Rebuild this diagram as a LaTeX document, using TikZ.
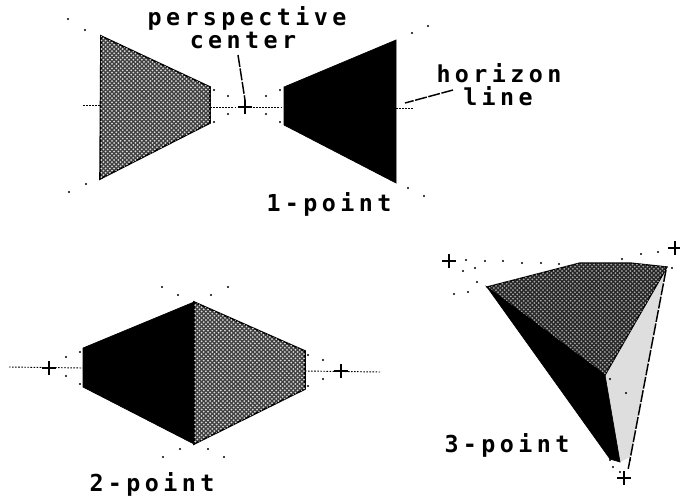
\documentclass[tikz,border=0pt]{standalone}
\usepackage{fontspec}
\usetikzlibrary{patterns}
\newfontfamily\pixfont[LetterSpace=19]{DejaVu Sans Mono Bold}
\pgfdeclarepatternformonly{dither}{\pgfqpoint{-0.1pt}{-0.1pt}}{\pgfqpoint{3.3pt}{3.3pt}}{\pgfqpoint{3.2pt}{3.2pt}}{
  \pgfpathcircle{\pgfqpoint{0.8pt}{0.8pt}}{0.75pt}
  \pgfpathcircle{\pgfqpoint{2.4pt}{2.4pt}}{0.75pt}
  \pgfusepath{fill}
}
\tikzset{
 x=0.75pt,y=-0.75pt,
 lab/.style={font=\pixfont\fontsize{17.5pt}{19pt}\selectfont,inner sep=0pt,align=center,text=black},
 midshade/.style={draw=black,line width=1.2pt,fill=black!75,postaction={pattern=dither,pattern color=white!85!black}},
 darkshade/.style={draw=black,line width=1pt,fill=black!85,postaction={pattern=dither,pattern color=white!65!black}},
 blackface/.style={draw=black,line width=0.5pt,fill=black},
 lightface/.style={draw=none,fill=black!13},
 dotline/.style={line width=0.7pt,dash pattern=on 1.2pt off 1.1pt,black},
 leader/.style={line width=1.1pt,dash pattern=on 9pt off 1.2pt,black},
 plusmark/.style={line width=1.1pt,black},
 sdot/.style={circle,fill=black,inner sep=0pt,minimum size=1.7pt},
}
\newcommand{\plusat}[2]{\draw[plusmark] (#1-7,#2) -- (#1+7,#2) (#1,#2-7) -- (#1,#2+7);}
\newcommand{\dotsat}[1]{\foreach \p in {#1} {\node[sdot] at (\p) {};}}
\begin{document}
\begin{tikzpicture}
\useasboundingbox (0,0) rectangle (680,496);
\fill[white] (0,0) rectangle (680,496);
% 1-point
\draw[midshade] (101,36) -- (210,87) -- (210,123) -- (100,179) -- cycle;
\draw[blackface] (284,87) -- (396,40) -- (396,183) -- (284,125) -- cycle;
\draw[dotline] (83,105) -- (101,105);
\draw[dotline] (210,107) -- (284,107);
\draw[dotline] (396,108) -- (413,108);
\coordinate (pc) at (245,100);
\plusat{245}{107}
\dotsat{{68,19},{85,30},{86,184},{69,192},{214,90},{228,96},{228,114},{214,122},{266,96},{266,114},{280,90},{280,122},{412,33},{428,26},{408,188},{424,196}}
\node[lab] (tp) at (247,18) {perspective};
\node[lab] (tc) at (243,40) {center};
\coordinate (pcl) at (238,55);
\draw[leader] (pcl) -- (pc);
\node[lab] (th) at (499,73) {horizon};
\node[lab] (tl) at (498,96) {line};
\coordinate (hla) at (453,90);
\coordinate (hlb) at (405,103);
\draw[leader] (hla) -- (hlb);
\node[lab] (t1) at (329,204) {1-point};
% 2-point
\draw[blackface] (83,348) -- (194,302) -- (194,444) -- (83,387) -- cycle;
\draw[midshade] (194,302) -- (305,351) -- (305,389) -- (194,444) -- cycle;
\draw[dotline] (9,367) -- (83,368);
\draw[dotline] (305,371) -- (380,372);
\plusat{49}{368}
\plusat{341}{371}
\dotsat{{162,287},{178,295},{211,295},{228,287},{66,357},{80,352},{66,376},{80,384},{308,355},{323,360},{323,379},{308,386},{163,457},{180,449},{208,449},{224,457}}
\node[lab] (t2) at (152,484) {2-point};
% 3-point
\draw[lightface] (666,268) -- (605,375) -- (620,462) -- (630,457) -- cycle;
\draw[darkshade] (487,287) -- (580,263) -- (630,263) -- (667,267) -- (605,375) -- cycle;
\draw[blackface] (487,287) -- (605,375) -- (620,462) -- (610,459) -- cycle;
\coordinate (v3a) at (666,270);
\coordinate (v3b) at (628,470);
\draw[leader] (v3a) -- (v3b);
\plusat{449}{261}
\plusat{675}{248}
\plusat{624}{478}
\dotsat{{466,260},{485,261},{503,261},{522,263},{541,263},{559,264},{622,259},{641,254},{658,252},{672,268},{463,271},{475,268},{477,282},{454,294},{468,292},{610,460},{613,467},{620,472},{630,460},{626,393},{610,379}}
\node[lab] (t3) at (507,445) {3-point};
\end{tikzpicture}
\end{document}
